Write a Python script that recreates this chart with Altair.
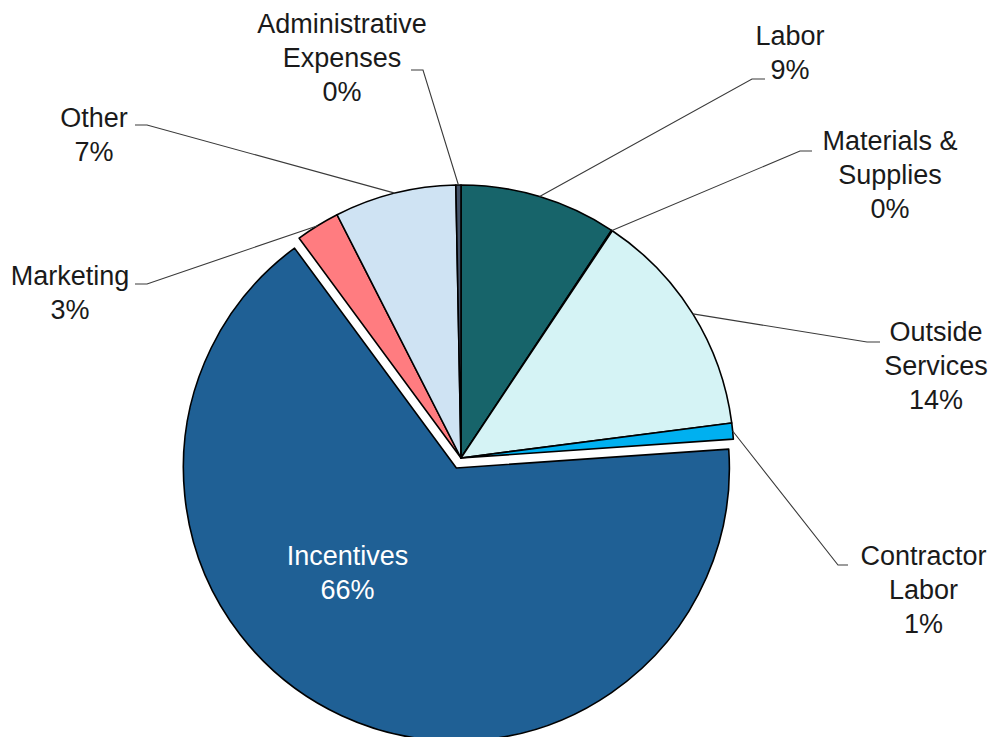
import math
import altair as alt
import pandas as pd

# ---- data (clockwise from 12 o'clock) ----
categories = ["Labor", "Materials & Supplies", "Outside Services", "Contractor Labor",
              "Incentives", "Marketing", "Other", "Administrative Expenses"]
values = [9.3, 0.05, 13.6, 0.95, 66.0, 2.6, 7.2, 0.3]
label_names = ["Labor", "Materials &\nSupplies", "Outside\nServices", "Contractor\nLabor",
               "Incentives", "Marketing", "Other", "Administrative\nExpenses"]
colors = ["#17646A", "#2E75B6", "#D5F3F5", "#00B0F0",
          "#1F6095", "#FF7C80", "#CFE3F3", "#44546A"]
exploded = "Incentives"

# ---- layout (chart pixel coordinates, page minus 8px margin) ----
CX, CY, R = 453, 450, 273
EXPLODE = 11
label_x = [782, 882, 928, 915.5, 339.5, 62, 86, 334]
label_y = [16, 120.5, 312, 536, 536, 256, 97.5, 3.5]
text_colors = ["#1a1a1a"] * 4 + ["#ffffff"] + ["#1a1a1a"] * 3
# leader: (elbow x, elbow y, horizontal end x) or None
leaders = [(744, 71, 757), (792, 143, 804), (859, 334, 872), (830, 557, 840),
           None, (139, 276, 127), (139, 117, 127), (415, 62, 403)]

total = sum(values)
df = pd.DataFrame({"cat": categories, "value": values, "order": list(range(len(values)))})

# explode offset along bisector of the exploded slice
cum = 0.0
mids = []
for v in values:
    mids.append((cum + v / 2) / total * 2 * math.pi)
    cum += v
ei = categories.index(exploded)
dx = EXPLODE * math.sin(mids[ei])
dy = -EXPLODE * math.cos(mids[ei])

theta_scale = alt.Scale(domain=[0, total], range=[0, 2 * math.pi], nice=False, zero=False)
color_scale = alt.Scale(domain=categories, range=colors)

base = alt.Chart(df).transform_stack(
    stack="value", groupby=[], as_=["v0", "v1"], sort=[alt.SortField("order")]
)

arcs_main = base.transform_filter(alt.datum.cat != exploded).mark_arc(
    radius=R, stroke="black", strokeWidth=1.6, strokeJoin="round"
).encode(
    theta=alt.Theta("v0:Q", scale=theta_scale),
    theta2="v1:Q",
    color=alt.Color("cat:N", scale=color_scale, legend=None),
    x=alt.value(CX),
    y=alt.value(CY),
)

arcs_exp = base.transform_filter(alt.datum.cat == exploded).mark_arc(
    radius=R, stroke="black", strokeWidth=1.6, strokeJoin="round",
    xOffset=dx, yOffset=dy
).encode(
    theta=alt.Theta("v0:Q", scale=theta_scale),
    theta2="v1:Q",
    color=alt.Color("cat:N", scale=color_scale, legend=None),
    x=alt.value(CX),
    y=alt.value(CY),
)

# leader lines
rows = []
for i, ld in enumerate(leaders):
    if ld is None:
        continue
    ex, ey, hx = ld
    ax = CX + R * math.sin(mids[i])
    ay = CY - R * math.cos(mids[i])
    rows += [
        {"cat": categories[i], "seq": 0, "x": hx, "y": ey},
        {"cat": categories[i], "seq": 1, "x": ex, "y": ey},
        {"cat": categories[i], "seq": 2, "x": ax, "y": ay},
    ]
lead_df = pd.DataFrame(rows)
lines = alt.Chart(lead_df).mark_line(color="#3a3a3a", strokeWidth=1.1).encode(
    x=alt.X("x:Q", scale=None),
    y=alt.Y("y:Q", scale=None),
    detail="cat:N",
    order="seq:Q",
)

lab_df = pd.DataFrame({
    "cat": categories,
    "txt": [f"{n}\n{round(v)}%" for n, v in zip(label_names, values)],
    "lx": label_x,
    "ly": label_y,
    "tc": text_colors,
})
labels = alt.Chart(lab_df).mark_text(
    align="center", baseline="top", fontSize=27, lineHeight=34, lineBreak="\n",
    font="Liberation Sans"
).encode(
    x=alt.X("lx:Q", scale=None),
    y=alt.Y("ly:Q", scale=None),
    text="txt:N",
    color=alt.Color("tc:N", scale=None),
)

chart = alt.layer(arcs_main, arcs_exp, lines, labels).properties(
    width=980, height=729, padding=0, autosize="none", background="white"
).configure_view(stroke=None)

chart.save("out.html", embed_options={"renderer": "svg", "actions": False})
